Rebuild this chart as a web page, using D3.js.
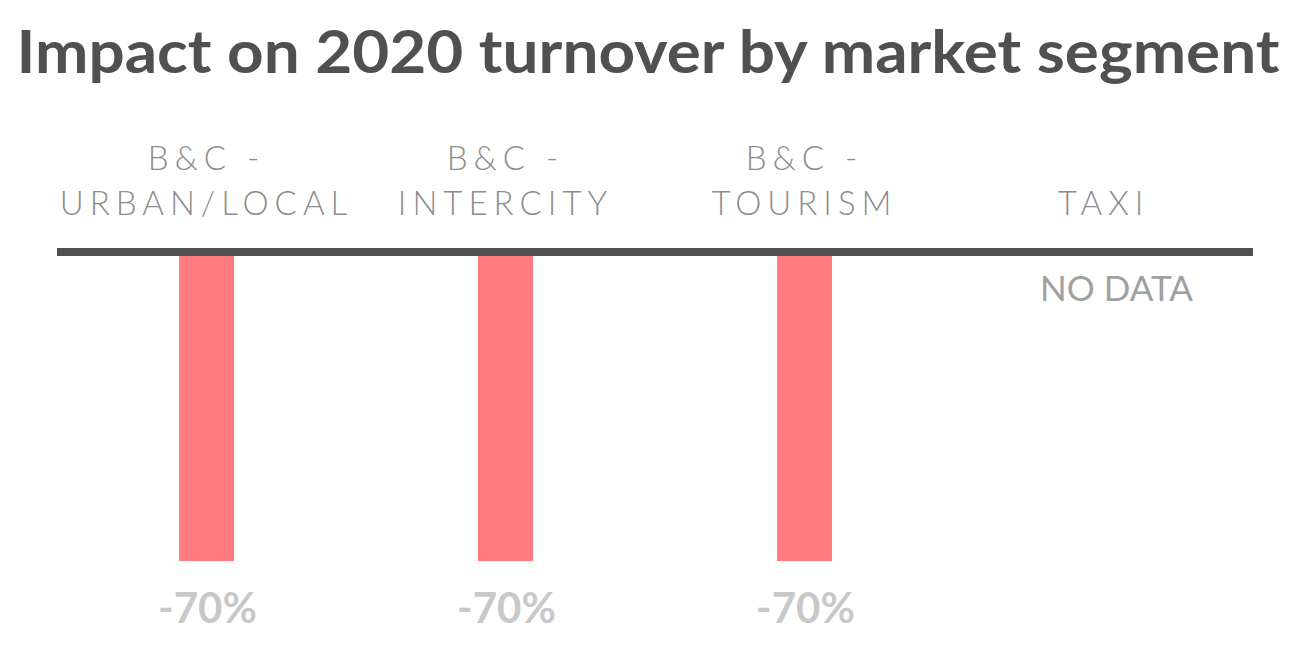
<!DOCTYPE html>
<html><head><meta charset="utf-8">
<script src="https://cdn.jsdelivr.net/npm/d3@7"></script>
<style>
html,body{margin:0;padding:0;background:#fff;}
svg{display:block;}
text{font-family:Lato,"Open Sans",sans-serif;}
</style></head>
<body><svg id="c" width="1306" height="666"></svg>
<script>
const title = "Impact on 2020 turnover by market segment";
const categories = ["B&C - URBAN/LOCAL","B&C - INTERCITY","B&C - TOURISM","TAXI"];
const labelLines = [["B&C -","URBAN/LOCAL"],["B&C -","INTERCITY"],["B&C -","TOURISM"],["TAXI"]];
const values = [-70,-70,-70,null];
const valueLabels = ["-70%","-70%","-70%","NO DATA"];

const svg = d3.select("#c");
const x = d3.scaleBand().domain(categories).range([57,1253]).paddingInner(0.816).paddingOuter(0.408);
const y = d3.scaleLinear().domain([-70,0]).range([561,252]);

svg.append("text").attr("x",648).attr("y",73).attr("text-anchor","middle")
  .attr("font-size",60).attr("font-weight",700).attr("fill","#505050")
  .attr("textLength",1263).attr("lengthAdjust","spacingAndGlyphs").text(title);

// bars
svg.selectAll("rect.bar").data(categories.map((c,i)=>({c,v:values[i]})).filter(d=>d.v!=null))
  .enter().append("rect").attr("class","bar")
  .attr("x",d=>x(d.c)).attr("width",x.bandwidth())
  .attr("y",d=>y(Math.max(0,d.v))).attr("height",d=>Math.abs(y(d.v)-y(0)))
  .attr("fill","#ff7b80");

// baseline axis
const axis = d3.axisTop(x).tickSize(0).tickFormat("");
const ag = svg.append("g").attr("transform",`translate(0,${y(0)})`).call(axis);
ag.select(".domain").attr("stroke","#505050").attr("stroke-width",8).attr("d","M57,0H1253");

// category labels
categories.forEach((c,i)=>{
  const cx = x(c)+x.bandwidth()/2;
  const lines = labelLines[i];
  const baseY = 215;
  lines.forEach((ln,j)=>{
    svg.append("text").attr("x",cx).attr("y",baseY-(lines.length-1-j)*45)
      .attr("text-anchor","middle").attr("font-size",33).attr("font-weight",300)
      .attr("letter-spacing","6px").attr("fill","#8c8c8c").text(ln);
  });
});

// value labels
categories.forEach((c,i)=>{
  const cx = x(c)+x.bandwidth()/2;
  if(values[i]!=null){
    svg.append("text").attr("x",cx+1).attr("y",y(values[i])+62).attr("text-anchor","middle")
      .attr("font-size",42).attr("font-weight",700).attr("fill","#c8c8c8")
      .text(valueLabels[i]);
  } else {
    svg.append("text").attr("x",cx+13).attr("y",301).attr("text-anchor","middle")
      .attr("font-size",35).attr("font-weight",400).attr("fill","#a0a0a0").text(valueLabels[i]);
  }
});
</script></body></html>
